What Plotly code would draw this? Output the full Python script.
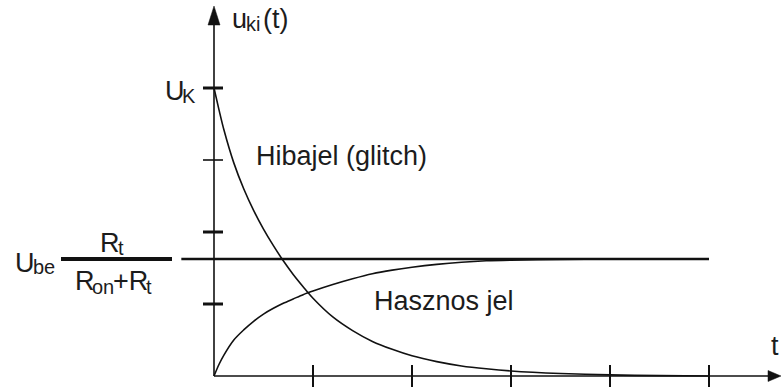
import plotly.graph_objects as go

# Canvas
W, H = 781, 390

# Time samples (in tick units) and the two signal traces
t = [0, 0.05, 0.1, 0.2, 0.3, 0.4, 0.5, 0.6, 0.7, 0.8, 0.9, 1.0, 1.2, 1.4,
     1.6, 1.8, 2.0, 2.25, 2.5, 2.75, 3.0, 3.5, 4.0, 4.5, 5.0]
glitch = [4.0, 3.70, 3.42, 2.96, 2.60, 2.30, 2.04, 1.81, 1.60, 1.41, 1.24,
          1.08, 0.82, 0.63, 0.48, 0.37, 0.28, 0.20, 0.14, 0.10, 0.07,
          0.035, 0.015, 0.005, 0.0]
useful = [0.0, 0.16, 0.29, 0.50, 0.64, 0.76, 0.86, 0.94, 1.01, 1.07, 1.13,
          1.18, 1.27, 1.35, 1.42, 1.47, 1.51, 1.55, 1.58, 1.60, 1.61, 1.62,
          1.625, 1.625, 1.625]

# Steady-state level Ube*Rt/(Ron+Rt) and its extent
level = 1.625
level_t = [-0.33, 5.0]

# Axis ticks
t_ticks = [1, 2, 3, 4, 5]
u_ticks = [1, 2, 3, 4]
u_tick_widths = [3, 3, 1.6, 3]

X_RANGE = [-214 / 99, 567 / 99]
Y_RANGE = [-14 / 72, 376 / 72]
DX = (X_RANGE[1] - X_RANGE[0]) / W   # data units per pixel
DY = (Y_RANGE[1] - Y_RANGE[0]) / H

INK = "#111111"
TXT = "#1c1c1c"
FONT = "Liberation Sans, Arial, sans-serif"

fig = go.Figure()

fig.add_trace(go.Scatter(x=t, y=glitch, mode="lines",
                         line=dict(color=INK, width=1.6, shape="spline",
                                   smoothing=0.8),
                         hoverinfo="skip", showlegend=False))
fig.add_trace(go.Scatter(x=t, y=useful, mode="lines",
                         line=dict(color=INK, width=1.6, shape="spline",
                                   smoothing=0.8),
                         hoverinfo="skip", showlegend=False))
fig.add_trace(go.Scatter(x=level_t, y=[level, level], mode="lines",
                         line=dict(color=INK, width=2.6),
                         hoverinfo="skip", showlegend=False))

shapes = []
# axes
y_top = Y_RANGE[1] - 6 * DY
x_end = X_RANGE[1]
shapes.append(dict(type="line", x0=0, y0=0, x1=0, y1=y_top - 12 * DY,
                   line=dict(color=INK, width=1.6)))
shapes.append(dict(type="line", x0=0, y0=0, x1=x_end - 11 * DX, y1=0,
                   line=dict(color=INK, width=1.6)))
# arrow heads
shapes.append(dict(type="path",
                   path=f"M {0} {y_top} L {-6*DX} {y_top-19*DY} L {6*DX} {y_top-19*DY} Z",
                   fillcolor=INK, line=dict(color=INK, width=0.5)))
shapes.append(dict(type="path",
                   path=f"M {x_end} {0} L {x_end-13*DX} {5.5*DY} L {x_end-13*DX} {-5.5*DY} Z",
                   fillcolor=INK, line=dict(color=INK, width=0.5)))
# x ticks
for tv in t_ticks:
    shapes.append(dict(type="line", x0=tv, x1=tv, y0=-11 * DY, y1=11 * DY,
                       line=dict(color=INK, width=2)))
# y ticks
for uv, lw in zip(u_ticks, u_tick_widths):
    shapes.append(dict(type="line", x0=-11 * DX, x1=9 * DX, y0=uv, y1=uv,
                       line=dict(color=INK, width=lw)))
# fraction bar of the level label
shapes.append(dict(type="line", x0=-153 * DX, x1=-42 * DX, y0=level, y1=level,
                   line=dict(color=INK, width=4)))

fig.update_layout(shapes=shapes)


def label(text, left, baseline, size):
    """Place text by glyph left edge and baseline, in pixels."""
    fig.add_annotation(text=text, xref="paper", yref="paper",
                       x=(left - 3) / W,
                       y=1 - (baseline - 0.3465 * size) / H,
                       xanchor="left", yanchor="middle", showarrow=False,
                       font=dict(family=FONT, size=size, color=TXT))


BIG, SMALL = 27, 20

label("Hibajel (glitch)", 257, 165, BIG)
label("Hasznos jel", 375, 310, BIG)
label("t", 772, 355, BIG)

label("u", 233, 28, BIG)
label("ki", 247, 31, SMALL)
label("(t)", 264, 28, BIG)

label("U", 166, 100, BIG)
label("K", 183, 103, SMALL)

label("U", 16, 272, BIG)
label("be", 34, 274, SMALL)

label("R", 101, 252, BIG)
label("t", 119, 255, SMALL)

label("R", 76, 290, BIG)
label("on", 93, 294, SMALL)
label("+R", 114, 290, BIG)
label("t", 147, 294, SMALL)

fig.update_layout(
    width=W, height=H,
    margin=dict(l=0, r=0, t=0, b=0),
    paper_bgcolor="white", plot_bgcolor="white",
    xaxis=dict(range=X_RANGE, visible=False, fixedrange=True),
    yaxis=dict(range=Y_RANGE, visible=False, fixedrange=True),
    showlegend=False,
)

fig.write_html("out.html", config={"displayModeBar": False})
